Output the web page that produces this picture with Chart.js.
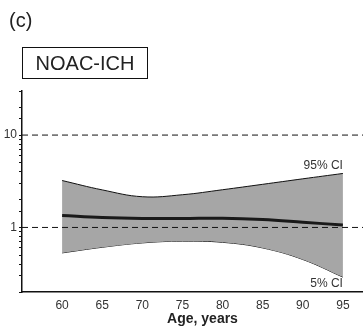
<!DOCTYPE html>
<html>
<head>
<meta charset="utf-8">
<script src="https://cdn.jsdelivr.net/npm/chart.js@4/dist/chart.umd.min.js"></script>
<style>
  html, body { margin: 0; padding: 0; background: #fff; overflow: hidden; width: 363px; height: 328px; }
  #wrap { position: relative; width: 390px; height: 328px; }
  #panel { position: absolute; left: 9px; top: 9px; font: 20px "Liberation Sans", Arial, sans-serif; color: #222; }
  #tag { position: absolute; left: 22px; top: 47px; width: 124px; height: 30px; border: 1px solid #111;
         font: 20px "Liberation Sans", Arial, sans-serif; color: #222; line-height: 30px; text-align: center; }
  canvas { position: absolute; left: 0; top: 0; }
</style>
</head>
<body>
<div id="wrap">
  <canvas id="c" width="390" height="328"></canvas>
  <div id="panel">(c)</div>
  <div id="tag">NOAC-ICH</div>
</div>
<script>
// values (hazard ratio vs age, log scale)
var ages = [60, 65, 70, 75, 80, 85, 90, 95];
var hazard = [1.35, 1.28, 1.25, 1.25, 1.26, 1.22, 1.14, 1.06];
var upperCI = [3.22, 2.55, 2.15, 2.26, 2.56, 2.93, 3.36, 3.84];
var lowerCI = [0.53, 0.61, 0.68, 0.71, 0.69, 0.60, 0.45, 0.29];
var refLevels = [1, 10];
var xRange = [55, 100];
var yRange = [0.2, 30];
var yLabels = [1, 10];
var xTicks = [60, 65, 70, 75, 80, 85, 90, 95];

function $map(arr, fn) { var out = []; for (var i = 0; i < arr.length; i++) out.push(fn(arr[i], i)); return out; }
function pts(ys) {
    return $map(ages, function(a, i) { return {x: a, y: ys[i]}; });
}

var datasets = [
    {
        label: 'upper', data: pts(upperCI), borderColor: '#111', borderWidth: 1,
        backgroundColor: '#a6a6a6', fill: '+1', pointRadius: 0, tension: 0.4, order: 3
    },
    {
        label: 'lower', data: pts(lowerCI), borderColor: '#111', borderWidth: 1,
        fill: false, pointRadius: 0, tension: 0.4, order: 3
    },
    {
        label: 'hr', data: pts(hazard), borderColor: '#1a1a1a', borderWidth: 3,
        fill: false, pointRadius: 0, tension: 0.4, order: 1
    }
];
refLevels.forEach(function(v) {
    datasets.push({
        label: 'ref' + v, data: [{x: xRange[0], y: v}, {x: xRange[1], y: v}],
        borderColor: '#111', borderWidth: 1, borderDash: [6, 4], fill: false, pointRadius: 0, order: 2
    });
});

// text labels for the CI edges, anchored at the last age
var ciLabels = {
    id: 'ciLabels',
    afterDatasetsDraw: function(chart) {
        var ctx = chart.ctx, xs = chart.scales.x, ys = chart.scales.y;
        var last = ages.length - 1;
        var px = xs.getPixelForValue(ages[last]);
        ctx.save();
        ctx.font = '12px "Liberation Sans", Arial, sans-serif';
        ctx.fillStyle = '#333';
        ctx.textAlign = 'right';
        ctx.textBaseline = 'bottom';
        ctx.fillText('95% CI', px, ys.getPixelForValue(upperCI[last]) - 2);
        ctx.fillText('5% CI', px, ys.bottom - 2);
        ctx.restore();
    }
};

new Chart(document.getElementById('c'), {
    type: 'line',
    data: { datasets: datasets },
    options: {
        responsive: false,
        animation: false,
        layout: { padding: { top: 91, left: 0, right: 7, bottom: 0 } },
        plugins: { legend: { display: false }, tooltip: { enabled: false } },
        scales: {
            x: {
                type: 'linear', min: xRange[0], max: xRange[1],
                afterFit: function(s) { s.height = 36; },
                afterBuildTicks: function(s) { s.ticks = $map(xTicks, function(v) { return {value: v}; }); },
                grid: { display: false },
                border: { display: true, color: '#111', width: 1.5 },
                ticks: { color: '#333', padding: -2, font: { family: '"Liberation Sans", Arial, sans-serif', size: 12 } },
                title: {
                    display: true, text: 'Age, years', color: '#222', padding: { top: 1, bottom: 0 },
                    font: { family: '"Liberation Sans", Arial, sans-serif', size: 14, weight: 'bold' }
                }
            },
            y: {
                type: 'logarithmic', min: yRange[0], max: yRange[1],
                afterFit: function(s) { s.width = 22; },
                grid: { drawOnChartArea: false, drawTicks: true, tickLength: 3, color: '#111' },
                border: { display: true, color: '#111', width: 1.5 },
                ticks: {
                    color: '#333', padding: 2, autoSkip: false,
                    font: { family: '"Liberation Sans", Arial, sans-serif', size: 12 },
                    callback: function(v) { return yLabels.indexOf(v) >= 0 ? String(v) : ''; }
                }
            }
        }
    },
    plugins: [ciLabels]
});
</script>
</body>
</html>
